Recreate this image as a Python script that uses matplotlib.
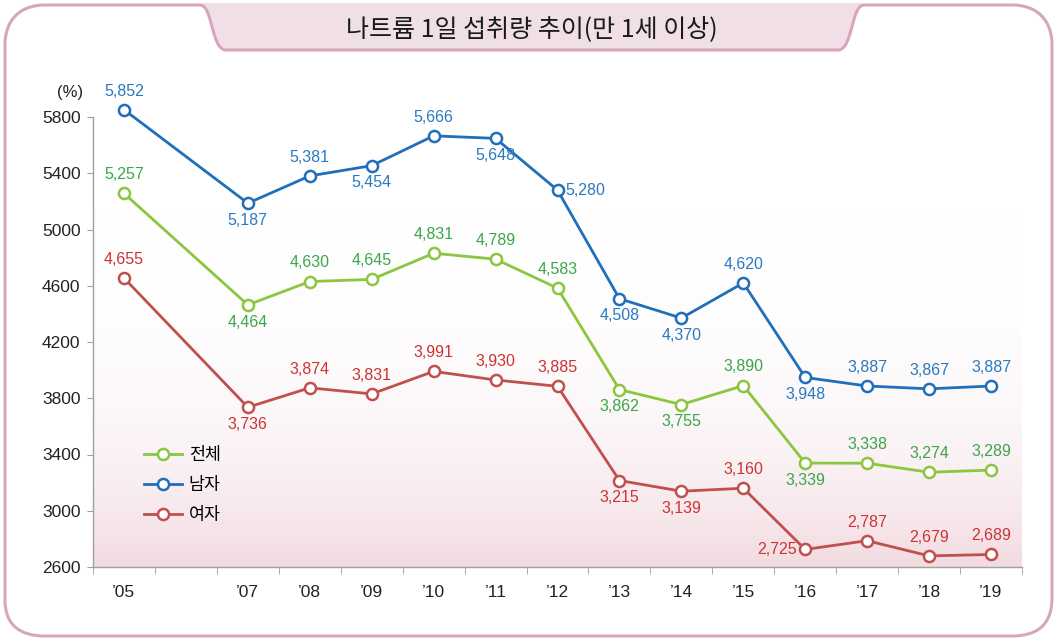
import numpy as np
import matplotlib
matplotlib.use("Agg")
import matplotlib.pyplot as plt
from matplotlib.path import Path
from matplotlib.patches import PathPatch
from matplotlib.colors import LinearSegmentedColormap

plt.rcParams['font.family'] = ['Liberation Sans', 'Noto Sans CJK KR', 'DejaVu Sans']

years = [2005, 2007, 2008, 2009, 2010, 2011, 2012, 2013, 2014, 2015, 2016, 2017, 2018, 2019]
year_labels = ["’05", "’07", "’08", "’09", "’10", "’11", "’12", "’13", "’14", "’15", "’16", "’17", "’18", "’19"]
total = [5257, 4464, 4630, 4645, 4831, 4789, 4583, 3862, 3755, 3890, 3339, 3338, 3274, 3289]
male = [5852, 5187, 5381, 5454, 5666, 5648, 5280, 4508, 4370, 4620, 3948, 3887, 3867, 3887]
female = [4655, 3736, 3874, 3831, 3991, 3930, 3885, 3215, 3139, 3160, 2725, 2787, 2679, 2689]
series_names = ["전체", "남자", "여자"]
title = "나트륨 1일 섭취량 추이(만 1세 이상)"

W, H = 1057, 640
fig = plt.figure(figsize=(W / 100, H / 100), dpi=100)


def px(pts):
    return [(x / W, 1 - y / H) for x, y in pts]


# outer frame with title tab
M, L, C = Path.MOVETO, Path.LINETO, Path.CURVE4
frame = [
    ((5, 600), M), ((5, 45), L),
    ((5, 20), C), ((20, 5), C), ((45, 5), C),
    ((200, 5), L),
    ((213, 5), C), ((211, 50), C), ((226, 50), C),
    ((838, 50), L),
    ((853, 50), C), ((851, 5), C), ((864, 5), C),
    ((1012, 5), L),
    ((1037, 5), C), ((1052, 20), C), ((1052, 45), C),
    ((1052, 598), L),
    ((1052, 625), C), ((1037, 636), C), ((1012, 636), C),
    ((45, 636), L),
    ((20, 636), C), ((5, 625), C), ((5, 600), C),
]
tab = [
    ((200, 3), M),
    ((213, 3), C), ((211, 50), C), ((226, 50), C),
    ((838, 50), L),
    ((853, 50), C), ((851, 3), C), ((864, 3), C),
    ((200, 3), L),
]
tab_path = Path(px([p for p, _ in tab]), [c for _, c in tab])
fig.patches.append(PathPatch(tab_path, transform=fig.transFigure, facecolor='#f1dfe8',
                             edgecolor='none', zorder=0))
frame_path = Path(px([p for p, _ in frame]), [c for _, c in frame])
fig.patches.append(PathPatch(frame_path, transform=fig.transFigure, facecolor='none',
                             edgecolor='#d7a6bd', linewidth=2.2, zorder=1))

fig.text(532 / W, 1 - 30 / H, title, ha='center', va='center', fontsize=18,
         family=['Noto Sans CJK KR', 'DejaVu Sans'], color='#1a1a1a')

ax = fig.add_axes([93 / W, 1 - 567 / H, (1022 - 93) / W, (567 - 117) / H])
ax.patch.set_alpha(0)

# pink gradient in plot area, pinker toward the bottom
t = np.linspace(0, 1, 256).reshape(-1, 1)
grad = (1 - t) ** 3.5
cmap = LinearSegmentedColormap.from_list('pk', ['#ffffff', '#f2dbe1'])
ax.imshow(grad, extent=[2004.5, 2019.5, 2600, 5800], aspect='auto', cmap=cmap,
          origin='lower', zorder=0)
ax.set_xlim(2004.5, 2019.5)
ax.set_ylim(2600, 5800)

styles = [
    (total, '#8cc63f', '#3aa64a'),
    (male, '#1f6fba', '#2a7ac0'),
    (female, '#c0504d', '#cc3333'),
]
# label placement per point: a=above, b=below, r=right, l=left
place = [
    "abaaaaabbabaaa",
    "abababrbbabaaa",
    "abaaaaabbalaaa",
]
offsets = {'a': ((0, 8), 'center', 'bottom'), 'b': ((0, -7), 'center', 'top'),
           'r': ((6, 0), 'left', 'center'), 'l': ((-6, 0), 'right', 'center')}

for (vals, lc, tc), name, pl in zip(styles, series_names, place):
    ax.plot(years, vals, '-o', color=lc, lw=2, ms=8, mfc='white', mew=1.8,
            label=name, clip_on=False, zorder=3)
    for x, y, p in zip(years, vals, pl):
        off, ha, va = offsets[p]
        ax.annotate(f"{y:,}", (x, y), xytext=off, textcoords='offset points',
                    ha=ha, va=va, fontsize=11.5, color=tc, zorder=4,
                    annotation_clip=False)

for s in ['top', 'right']:
    ax.spines[s].set_visible(False)
for s in ['left', 'bottom']:
    ax.spines[s].set_color('#a0a0a0')
    ax.spines[s].set_linewidth(1)

ax.set_yticks(range(2600, 5801, 400))
ax.tick_params(axis='y', length=4, color='#a0a0a0', labelsize=12.5, pad=5, labelcolor='#222222')
ax.set_xticks(years)
ax.set_xticklabels(year_labels)
ax.tick_params(axis='x', which='major', length=0, labelsize=12.5, pad=13, labelcolor='#222222')
ax.set_xticks(np.arange(2004.5, 2019.6, 1), minor=True)
ax.tick_params(axis='x', which='minor', length=5, color='#a0a0a0')

fig.text(70 / W, 1 - 93 / H, "(%)", ha='center', va='center', fontsize=12, color='#222222')

leg = ax.legend(loc='upper left', bbox_to_anchor=(128 / W, 1 - 430 / H),
                bbox_transform=fig.transFigure, frameon=False,
                handlelength=2.2, labelspacing=0.7, handletextpad=0.4,
                prop={'family': ['Noto Sans CJK KR', 'DejaVu Sans'], 'size': 12.5})

fig.savefig('out.png', dpi=100)
